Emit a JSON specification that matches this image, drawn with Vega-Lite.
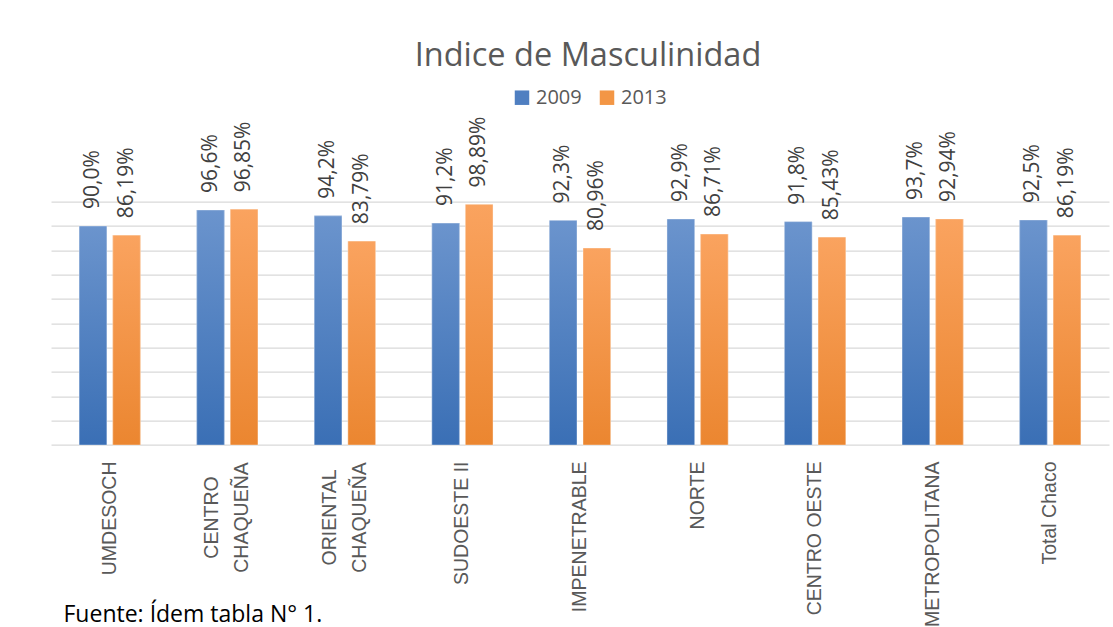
{
  "$schema": "https://vega.github.io/schema/vega-lite/v6.json",
  "width": 1058,
  "height": 243.3,
  "autosize": {"type": "none"},
  "padding": {"left": 51, "top": 201.7, "right": 4, "bottom": 182},
  "background": "white",
  "config": {"view": {"stroke": null}, "font": "Open Sans"},
  "title": {
    "text": "Indice de Masculinidad",
    "font": "Open Sans",
    "fontSize": 32.5,
    "fontWeight": "normal",
    "color": "#595959",
    "anchor": "middle",
    "frame": "group",
    "dx": 8,
    "dy": -11
  },
  "data": {
    "values": [
      {"region": "UMDESOCH", "year": "2009", "value": 0.900, "label": "90,0%"},
      {"region": "UMDESOCH", "year": "2013", "value": 0.8619, "label": "86,19%"},
      {"region": "CENTRO\nCHAQUEÑA", "year": "2009", "value": 0.966, "label": "96,6%"},
      {"region": "CENTRO\nCHAQUEÑA", "year": "2013", "value": 0.9685, "label": "96,85%"},
      {"region": "ORIENTAL\nCHAQUEÑA", "year": "2009", "value": 0.942, "label": "94,2%"},
      {"region": "ORIENTAL\nCHAQUEÑA", "year": "2013", "value": 0.8379, "label": "83,79%"},
      {"region": "SUDOESTE II", "year": "2009", "value": 0.912, "label": "91,2%"},
      {"region": "SUDOESTE II", "year": "2013", "value": 0.9889, "label": "98,89%"},
      {"region": "IMPENETRABLE", "year": "2009", "value": 0.923, "label": "92,3%"},
      {"region": "IMPENETRABLE", "year": "2013", "value": 0.8096, "label": "80,96%"},
      {"region": "NORTE", "year": "2009", "value": 0.929, "label": "92,9%"},
      {"region": "NORTE", "year": "2013", "value": 0.8671, "label": "86,71%"},
      {"region": "CENTRO OESTE", "year": "2009", "value": 0.918, "label": "91,8%"},
      {"region": "CENTRO OESTE", "year": "2013", "value": 0.8543, "label": "85,43%"},
      {"region": "METROPOLITANA", "year": "2009", "value": 0.937, "label": "93,7%"},
      {"region": "METROPOLITANA", "year": "2013", "value": 0.9294, "label": "92,94%"},
      {"region": "Total Chaco", "year": "2009", "value": 0.925, "label": "92,5%"},
      {"region": "Total Chaco", "year": "2013", "value": 0.8619, "label": "86,19%"}
    ]
  },
  "encoding": {
    "x": {
      "field": "region",
      "type": "nominal",
      "sort": null,
      "scale": {"paddingInner": 0.48, "paddingOuter": 0.24},
      "axis": {
        "title": "Fuente: Ídem tabla N° 1.",
        "titleFont": "Open Sans",
        "titleFontSize": 23,
        "titleFontWeight": "normal",
        "titleColor": "#000000",
        "titleAnchor": "start",
        "titleAlign": "left",
        "titleBaseline": "alphabetic",
        "titleX": 12,
        "titleY": 176,
        "labelAngle": 270,
        "labelExpr": "split(datum.label, '\\n')",
        "labelFont": "Liberation Sans",
        "labelFontSize": 19.5,
        "labelColor": "#595959",
        "labelLineHeight": 30,
        "labelAlign": {"condition": {"test": "indexof(datum.label, '\\n') >= 0", "value": "center"}, "value": "right"},
        "labelPadding": {"condition": {"test": "indexof(datum.label, '\\n') >= 0", "value": 72}, "value": 16},
        "labelOffset": {"condition": {"test": "indexof(datum.label, '\\n') >= 0", "value": -15}, "value": 0},
        "labelLimit": 300,
        "ticks": false,
        "domain": false
      }
    },
    "xOffset": {"field": "year", "type": "nominal", "scale": {"paddingInner": 0.18}},
    "y": {
      "field": "value",
      "type": "quantitative",
      "scale": {"domain": [0, 1], "nice": false},
      "axis": {
        "title": null,
        "labels": false,
        "ticks": false,
        "domain": false,
        "grid": true,
        "gridColor": "#d9d9d9",
        "gridWidth": 1.3,
        "values": [0, 0.1, 0.2, 0.3, 0.4, 0.5, 0.6, 0.7, 0.8, 0.9, 1.0]
      }
    }
  },
  "layer": [
    {
      "mark": {"type": "bar"},
      "encoding": {
        "color": {
          "field": "year",
          "type": "nominal",
          "scale": {"domain": ["2009", "2013"], "range": ["#4f7fc1", "#f39645"]},
          "legend": {
            "title": null,
            "orient": "none",
            "legendX": 461,
            "legendY": -114,
            "direction": "horizontal",
            "symbolType": "square",
            "symbolSize": 210,
            "symbolStrokeWidth": 0,
            "labelFont": "Open Sans",
            "labelFontSize": 20,
            "labelColor": "#595959",
            "labelOffset": 4,
            "columnPadding": 15
          }
        }
      }
    },
    {
      "mark": {"type": "bar", "stroke": "#ffffff", "strokeWidth": 0.6, "strokeOpacity": 0.6},
      "encoding": {
        "fill": {
          "condition": {
            "test": "datum.year === '2009'",
            "value": {"gradient": "linear", "x1": 0, "y1": 0, "x2": 0, "y2": 1, "stops": [{"offset": 0, "color": "#6b94cd"}, {"offset": 1, "color": "#3a6fb5"}]}
          },
          "value": {"gradient": "linear", "x1": 0, "y1": 0, "x2": 0, "y2": 1, "stops": [{"offset": 0, "color": "#faa35f"}, {"offset": 1, "color": "#eb8630"}]}
        }
      }
    },
    {
      "mark": {
        "type": "text",
        "angle": -90,
        "align": "left",
        "baseline": "middle",
        "dx": 17,
        "font": "Open Sans",
        "fontSize": 21,
        "color": "#404040"
      },
      "encoding": {
        "text": {"field": "label", "type": "nominal"}
      }
    }
  ]
}
